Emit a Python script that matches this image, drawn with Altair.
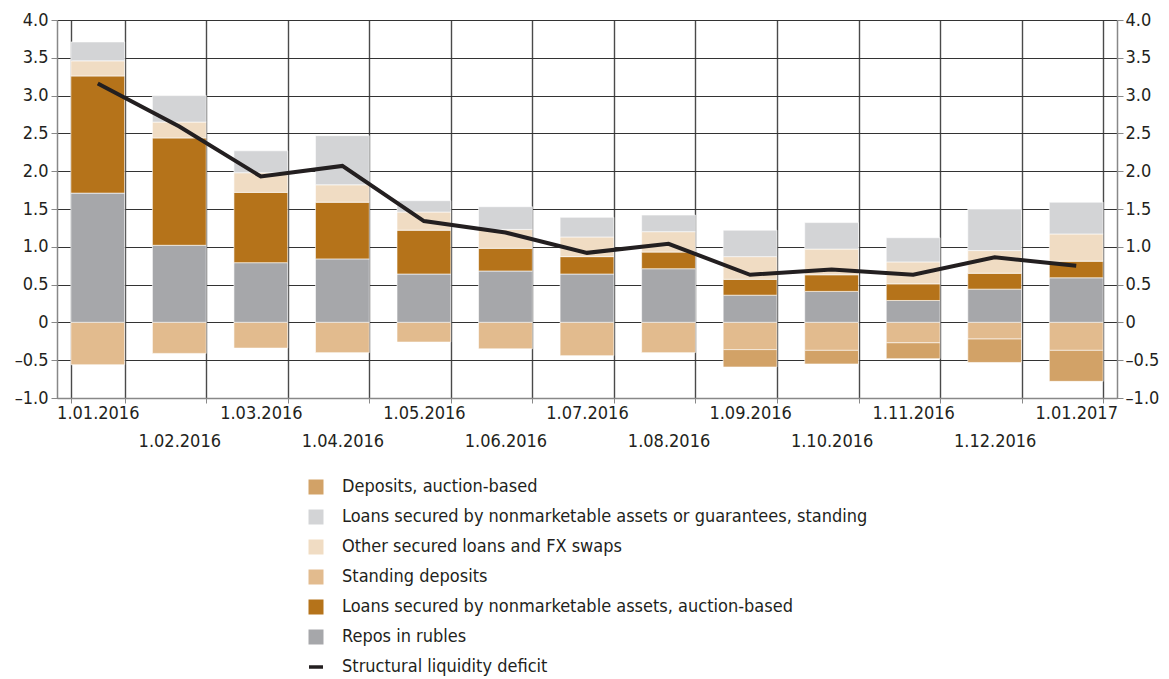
import altair as alt
import pandas as pd

dates = ["1.01.2016", "1.02.2016", "1.03.2016", "1.04.2016", "1.05.2016", "1.06.2016",
         "1.07.2016", "1.08.2016", "1.09.2016", "1.10.2016", "1.11.2016", "1.12.2016", "1.01.2017"]

repos = [1.71, 1.02, 0.79, 0.84, 0.64, 0.68, 0.64, 0.71, 0.36, 0.41, 0.29, 0.44, 0.59]
loans_auction = [1.55, 1.42, 0.93, 0.75, 0.58, 0.30, 0.23, 0.22, 0.21, 0.22, 0.22, 0.21, 0.22]
other_secured = [0.20, 0.21, 0.26, 0.23, 0.24, 0.25, 0.26, 0.27, 0.30, 0.34, 0.29, 0.30, 0.36]
loans_standing = [0.25, 0.35, 0.29, 0.65, 0.15, 0.30, 0.26, 0.22, 0.35, 0.35, 0.32, 0.55, 0.42]
standing_deposits = [-0.56, -0.41, -0.34, -0.40, -0.26, -0.35, -0.44, -0.40, -0.36, -0.37, -0.27, -0.22, -0.37]
deposits_auction = [0, 0, 0, 0, 0, 0, 0, 0, -0.23, -0.18, -0.21, -0.31, -0.41]
deficit = [3.16, 2.59, 1.93, 2.07, 1.34, 1.19, 0.92, 1.04, 0.63, 0.70, 0.63, 0.86, 0.75]

names = ["Deposits, auction-based",
         "Loans secured by nonmarketable assets or guarantees, standing",
         "Other secured loans and FX swaps",
         "Standing deposits",
         "Loans secured by nonmarketable assets, auction-based",
         "Repos in rubles"]
colors = ["#d2a267", "#d3d4d6", "#f0dcc3", "#e2bb8e", "#b5731a", "#a6a7aa"]
line_name = "Structural liquidity deficit"

# stacking order: repos bottom, then auction loans, other, standing loans; negatives: standing deposits, auction deposits
stack_series = [
    (names[5], repos, 0),
    (names[4], loans_auction, 1),
    (names[2], other_secured, 2),
    (names[1], loans_standing, 3),
    (names[3], standing_deposits, 4),
    (names[0], deposits_auction, 5),
]

rows = []
for name, vals, order in stack_series:
    for d, v in zip(dates, vals):
        if v != 0:
            rows.append({"date": d, "series": name, "value": v, "order": order})
df = pd.DataFrame(rows)
line_df = pd.DataFrame({"date": dates, "value": deficit, "series": [line_name] * len(dates)})

FONT = "DejaVu Sans Condensed, Liberation Sans Narrow, sans-serif"
second_row = dates[1::2]
label_expr = ("indexof([" + ",".join("'" + d + "'" for d in second_row) +
              "], datum.value) >= 0 ? ['', datum.value] : datum.value")

x_axis = alt.Axis(title=None, labelAngle=0, tickBand="extent", grid=True, gridColor="#4a4a4a",
                  gridWidth=1.4, domainColor="#888888", domainWidth=1.5, tickColor="#888888",
                  tickSize=5, labelFontSize=18, labelFont=FONT, labelColor="#231f20",
                  labelPadding=1, labelLineHeight=28, labelExpr=label_expr, labelOverlap=False)
x_enc = alt.X("date:N", sort=dates,
              scale=alt.Scale(paddingInner=0.34, paddingOuter=0.17), axis=x_axis)

y_scale = alt.Scale(domain=[-1, 4], nice=False, zero=False)
y_vals = [-1, -0.5, 0, 0.5, 1, 1.5, 2, 2.5, 3, 3.5, 4]
y_label_expr = ("datum.value == 0 ? '0' : "
                "replace(replace(format(datum.value, '.1f'), '\u2212', '\u2013'), '-', '\u2013')")

left_axis = alt.Axis(title=None, orient="left", values=y_vals, grid=True, gridColor="#333333",
                     gridWidth=1, domainColor="#888888", domainWidth=1.5, tickColor="#888888",
                     tickSize=6, labelFontSize=18, labelFont=FONT, labelColor="#231f20",
                     labelPadding=3, labelExpr=y_label_expr)
right_axis = alt.Axis(title=None, orient="right", values=y_vals, grid=False,
                      domainColor="#888888", domainWidth=1.5, tickColor="#888888",
                      tickSize=6, labelFontSize=18, labelFont=FONT, labelColor="#231f20",
                      labelPadding=2, labelExpr=y_label_expr)

bars = alt.Chart(df).mark_bar(stroke="white", strokeWidth=0.6).encode(
    x=x_enc,
    y=alt.Y("value:Q", stack="zero", scale=y_scale, axis=left_axis),
    color=alt.Color("series:N", scale=alt.Scale(domain=names, range=colors),
                    legend=alt.Legend(title=None, orient="none", legendX=250, legendY=458,
                                      symbolType="square", symbolSize=225, symbolStrokeWidth=0,
                                      labelFontSize=18, labelFont=FONT, labelColor="#231f20",
                                      labelOffset=17, rowPadding=12, padding=0, labelLimit=700)),
    order=alt.Order("order:Q"),
)

line = alt.Chart(line_df).mark_line(strokeWidth=4).encode(
    x=x_enc,
    y=alt.Y("value:Q", scale=y_scale, axis=right_axis),
    stroke=alt.Stroke("series:N", scale=alt.Scale(domain=[line_name], range=["#231f20"]),
                      legend=alt.Legend(title=None, orient="none", legendX=250, legendY=638,
                                        symbolType="stroke", symbolSize=196, symbolStrokeWidth=3.5,
                                        labelFontSize=18, labelFont=FONT, labelColor="#231f20",
                                        labelOffset=17, padding=0, labelLimit=700)),
)

chart = alt.layer(bars, line).resolve_axis(y="independent").resolve_scale(
    color="independent", stroke="independent"
).properties(
    width=1060, height=378,
    autosize=alt.AutoSizeParams(type="none"),
    padding={"left": 49, "top": 12, "right": 44, "bottom": 278},
).configure_view(stroke=None).configure(background="white")

chart.save("out.html", embed_options={"renderer": "svg", "actions": False})
